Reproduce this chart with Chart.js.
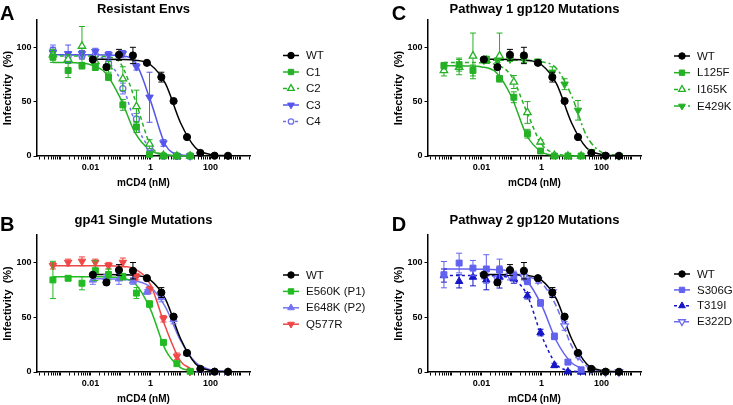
<!DOCTYPE html>
<html>
<head>
<meta charset="utf-8">
<script src="https://cdn.jsdelivr.net/npm/chart.js@4.4.1/dist/chart.umd.min.js"></script>
<style>
  html, body { margin: 0; padding: 0; background: #fff; }
  #wrap { position: relative; width: 733px; height: 405px; overflow: hidden; }
  canvas { position: absolute; }
</style>
</head>
<body>
<div id="wrap">
  <canvas id="panelA" width="391" height="209" style="left:0;top:0"></canvas>
  <canvas id="panelB" width="391" height="196" style="left:0;top:209px"></canvas>
  <canvas id="panelC" width="342" height="209" style="left:391px;top:0"></canvas>
  <canvas id="panelD" width="342" height="196" style="left:391px;top:209px"></canvas>
</div>
<script>
// doses (nM) and fit sampling points
const wtDose  = [0.012, 0.034, 0.089, 0.26, 0.76, 2.3, 5.9, 16.5, 46, 137, 383];
const mutDose = [0.00056, 0.0018, 0.0052, 0.0145, 0.04, 0.12, 0.34, 0.93, 2.7, 7.6, 21];
const wtFitX  = [0.012, 0.0316, 0.1, 0.316, 1, 3.16, 10, 31.6, 100, 383];
const mutFitX = [0.00056, 0.001, 0.00316, 0.01, 0.0316, 0.1, 0.316, 1, 3.16, 10, 21];

// axis ticks
const xTickValues = [0.01, 1, 100];
const xTickText = ['0.01', '1', '100'];
const yTickValues = [0, 50, 100];

// WT (same in every panel)
const wtMean = [88.7, 81.7, 93, 92.4, 85.6, 72.5, 50.5, 17.4, 2.8, 0.3, 0.2];
const wtSem  = [1.5, 2, 5, 7.5, 1.5, 4.5, 1.5, 1.5, 1, 0.5, 0.5];
const wtFit  = [89, 89, 88.8, 88.1, 83.9, 66.5, 30.6, 7.6, 1.45, 0.2];

// A - resistant envs
const c1Mean = [91, 78.6, 83, 81.6, 72.5, 47, 26.6, 1.5, 0, 0, 0];
const c1Sem  = [5, 6.5, 3, 3, 3, 5, 5, 1, 0.5, 0.5, 0.5];
const c1Fit  = [86, 85.9, 85.6, 83.9, 76.4, 53, 20.8, 5.2, 1.1, 0.2, 0.1];
const c2Mean = [93, 89, 101, 87, 82, 71, 45.5, 11, 0.5, 0, 0];
const c2Sem  = [5, 4, 18, 4, 5, 11, 15, 4, 1, 0.5, 0.5];
const c2Fit  = [92, 92, 92, 91.9, 91.3, 85.1, 50.7, 10, 1.1, 0.1, 0];
const c3Mean = [95, 94, 94, 96, 93, 94, 82, 54, 12, 0.3, 0];
const c3Sem  = [5, 8, 3, 3, 3, 3, 3, 23, 3, 0.5, 0.5];
const c3Fit  = [93, 93, 93, 93, 92.9, 92.2, 85.9, 50.9, 10.1, 1.1, 0.25];
const c4Mean = [97, 92, 92, 93, 85, 62, 34, 8, 0, 0, 0];
const c4Sem  = [5, 3, 3, 3, 3, 5, 5, 3, 0.5, 0.5, 0.5];
const c4Fit  = [93, 93, 92.9, 92.2, 88.4, 69.9, 30.2, 6.6, 1.1, 0.18, 0.05];

// B - gp41 single mutations
const e560kMean = [84, 85.5, 81, 92.5, 89, 87, 72, 62, 27, 7.6, 0.6];
const e560kSem  = [17, 2, 6, 9, 5, 3, 5, 3, 2, 2, 1];
const e560kFit  = [87, 87, 87, 87, 86.8, 85.9, 80.3, 57.1, 20.2, 4, 1.26];
const e648kMean = [84, 86, 85, 83, 73, 68, 48, 17, 2, 0, 0];
const e648kSem  = [4, 3, 5, 3, 2, 4, 4, 2, 1, 0.5, 0.5];
const e648kFit  = [85, 85, 84.6, 83.2, 77.5, 59.2, 28.9, 8.8, 2.1, 0.4];
const q577rMean = [97, 100, 101, 100, 97, 100, 87, 75, 48.6, 14.3, 0.6];
const q577rSem  = [3, 3, 4, 3, 3, 4, 3, 3, 3, 3, 1];
const q577rFit  = [97, 97, 97, 97, 96.9, 96.5, 93.8, 79.7, 41, 10, 3.3];

// C - pathway 1
const l125fMean = [83, 84, 78.6, 89, 71, 54, 20.5, 4.6, 0, 0, 0];
const l125fSem  = [3, 6, 5, 2, 3, 5, 4, 1.5, 0.5, 0.5, 0.5];
const l125fFit  = [83, 83, 82.8, 81.9, 76.6, 54.5, 19.3, 3.8, 0.63, 0.1, 0.03];
const i165kMean = [78.6, 81.7, 92, 88, 92, 68, 40, 13, 0.6, 0, 0];
const i165kSem  = [5, 7, 21, 3, 21, 6, 10, 2, 0.5, 0.5, 0.5];
const i165kFit  = [86, 86, 86, 85.6, 83.8, 73.4, 41.3, 11, 2, 0.3, 0.1];
const e429kMean = [88, 88, 89, 89, 87, 77, 66, 42, 4, 0, 0];
const e429kSem  = [2, 2, 2, 3, 2, 5, 5, 9, 2, 0.5, 0.5];
const e429kFit  = [88, 88, 88, 87.8, 86.7, 80.5, 55.6, 18.8, 3.6, 0.44];

// D - pathway 2
const s306gMean = [88.8, 99.4, 94.8, 94, 93, 88, 82.7, 63, 32.5, 9, 2];
const s306gSem  = [12, 9, 7, 13, 10, 4, 3, 3, 3, 2, 1];
const s306gFit  = [94, 94, 94, 93.8, 93.4, 91.4, 83.6, 61.2, 28.3, 8.5, 3.5];
const t319iMean = [88, 82.7, 86.6, 84, 86.6, 85, 69.6, 36, 6, 0.3, 0];
const t319iSem  = [6, 6, 8, 9, 10, 4, 3, 3, 2, 0.5, 0.5];
const t319iFit  = [88, 88, 88, 88, 87.6, 85.2, 71.5, 33.4, 7, 1.06, 0.3];
const e322dMean = [88, 85, 88, 87, 84, 73, 42, 15, 2, 0, 0];
const e322dSem  = [3, 3, 4, 3, 3, 4, 4, 2, 1, 0.5, 0.5];
const e322dFit  = [88, 88, 87.8, 86.7, 81.2, 59.7, 24, 5.5, 1, 0.14];

const FONT = '"Liberation Sans", Arial, Helvetica, sans-serif';
const GREEN = '#25b025', BLUE = '#5656ec', BLUE2 = '#6e6ef2';

function series(label, xs, ys, errs, fitX, fitY, st) {
    const pts = {
        label: label,
        errors: errs,
        lineDash: st.dash || [],
        data: xs.map((x, i) => ({ x: x, y: ys[i] })),
        showLine: false,
        pointStyle: st.shape,
        pointRadius: st.r,
        pointHoverRadius: st.r,
        pointRotation: st.rot || 0,
        backgroundColor: st.open ? '#fff' : st.color,
        borderColor: st.color,
        borderWidth: st.open ? 1.3 : 1,
        order: 0,
        clip: false
    };
    const fit = {
        label: label + ' fit',
        data: fitX.map((x, i) => ({ x: x, y: fitY[i] })),
        showLine: true,
        pointRadius: 0,
        borderColor: st.color,
        borderWidth: 1.5,
        borderDash: st.dash || [],
        cubicInterpolationMode: 'monotone',
        fill: false,
        order: 1,
        clip: false
    };
    return [pts, fit];
}

function wtSeries() {
    return series('WT', wtDose, wtMean, wtSem, wtFitX, wtFit, { color: '#000', shape: 'circle', r: 3.6 });
}

// error bars, drawn just before each point dataset
const errorBars = {
    id: 'errorBars',
    beforeDatasetDraw(chart, args) {
        const ds = chart.data.datasets[args.index];
        if (!ds.errors) return;
        const ctx = chart.ctx, xs = chart.scales.x, ys = chart.scales.y;
        ctx.save();
        ctx.strokeStyle = ds.borderColor;
        ctx.lineWidth = 1;
        ds.data.forEach((p, i) => {
            const e = ds.errors[i];
            if (!e) return;
            const px = xs.getPixelForValue(p.x);
            const top = ys.getPixelForValue(p.y + e);
            const bot = ys.getPixelForValue(Math.max(p.y - e, 0));
            ctx.beginPath();
            ctx.moveTo(px, top); ctx.lineTo(px, bot);
            ctx.moveTo(px - 3, top); ctx.lineTo(px + 3, top);
            ctx.moveTo(px - 3, bot); ctx.lineTo(px + 3, bot);
            ctx.stroke();
        });
        ctx.restore();
    }
};

function marker(ctx, shape, r, rot, x, y) {
    ctx.beginPath();
    if (shape === 'circle') {
        ctx.arc(x, y, r, 0, Math.PI * 2);
    } else if (shape === 'rect') {
        const s = r * Math.SQRT1_2;
        ctx.rect(x - s, y - s, 2 * s, 2 * s);
    } else {
        let a = rot * Math.PI / 180;
        for (let k = 0; k < 3; k++) {
            const px = x + Math.sin(a) * r, py = y - Math.cos(a) * r;
            if (k === 0) ctx.moveTo(px, py); else ctx.lineTo(px, py);
            a += 2 * Math.PI / 3;
        }
        ctx.closePath();
    }
    ctx.fill();
    ctx.stroke();
}

// panel letter, title and legend
const panelDecor = {
    id: 'panelDecor',
    afterDraw(chart, args, o) {
        const ctx = chart.ctx, area = chart.chartArea;
        ctx.save();
        ctx.fillStyle = '#000';
        ctx.textBaseline = 'alphabetic';
        ctx.textAlign = 'left';
        ctx.font = 'bold 20px ' + FONT;
        ctx.fillText(o.letter, o.letterX, o.letterY);
        ctx.font = 'bold 13px ' + FONT;
        ctx.textAlign = 'center';
        ctx.fillText(o.title, (area.left + area.right) / 2, o.titleY);

        ctx.font = '11.5px ' + FONT;
        ctx.textAlign = 'left';
        ctx.textBaseline = 'middle';
        let y = o.legendY;
        chart.data.datasets.filter(d => d.errors).forEach(d => {
            ctx.strokeStyle = d.borderColor;
            ctx.lineWidth = 1.5;
            ctx.setLineDash(d.lineDash);
            ctx.beginPath();
            ctx.moveTo(283, y); ctx.lineTo(299, y);
            ctx.stroke();
            ctx.setLineDash([]);
            ctx.fillStyle = d.backgroundColor;
            ctx.lineWidth = d.borderWidth;
            marker(ctx, d.pointStyle, d.pointRadius * 0.9, d.pointRotation, 291, y);
            ctx.fillStyle = '#111';
            ctx.fillText(d.label, 306, y + 0.5);
            y += o.legendStep;
        });
        ctx.restore();
    }
};

function buildLogTicks(scale) {
    const ticks = [];
    for (let e = -4; e <= 3; e++) {
        for (let m = 1; m <= 9; m++) {
            const v = m * Math.pow(10, e);
            if (v >= scale.min && v <= scale.max) ticks.push({ value: v, major: m === 1 });
        }
    }
    scale.ticks = ticks;
}

function xLabel(v) {
    const i = xTickValues.findIndex(t => Math.abs(t - v) / t < 1e-6);
    return i >= 0 ? xTickText[i] : '';
}

function makePanel(id, datasets, area, decor) {
    const cv = document.getElementById(id);
    const axisCommon = {
        grid: { drawOnChartArea: false, drawTicks: true, tickLength: 3.5, tickColor: '#000', tickWidth: 1 },
        border: { display: true, color: '#000', width: 1.5 }
    };
    return new Chart(cv, {
        type: 'scatter',
        data: { datasets: datasets },
        options: {
            responsive: false,
            animation: false,
            events: [],
            layout: {
                padding: {
                    left: 1.5,
                    top: area.top,
                    right: cv.width - area.right,
                    bottom: cv.height - area.bottom - 33
                }
            },
            scales: {
                x: Object.assign({
                    type: 'logarithmic',
                    min: 0.000165,
                    max: 2075,
                    afterBuildTicks: buildLogTicks,
                    afterFit: s => { s.height = 33; },
                    ticks: {
                        autoSkip: false, maxRotation: 0, minRotation: 0, padding: 2.5,
                        color: '#000', font: { family: FONT, size: 9, weight: 'bold' },
                        callback: xLabel
                    },
                    title: { display: true, text: 'mCD4 (nM)', color: '#000', padding: 0,
                             font: { family: FONT, size: 10, weight: 'bold' } }
                }, axisCommon),
                y: Object.assign({
                    type: 'linear',
                    min: 0,
                    max: 125,
                    afterBuildTicks: s => { s.ticks = yTickValues.map(v => ({ value: v })); },
                    afterFit: s => { s.width = area.left - 1.5; },
                    ticks: { padding: 2, color: '#000', font: { family: FONT, size: 9, weight: 'bold' } },
                    title: { display: true, text: 'Infectivity  (%)', color: '#000', padding: 0,
                             font: { family: FONT, size: 11, weight: 'bold' } }
                }, axisCommon)
            },
            plugins: {
                legend: { display: false },
                tooltip: { enabled: false },
                panelDecor: decor
            }
        },
        plugins: [errorBars, panelDecor]
    });
}

const areaTop = { left: 37, top: 20, right: 250, bottom: 156 };
const areaBottom = { left: 37, top: 26, right: 250, bottom: 163 };

makePanel('panelA', [].concat(
    wtSeries(),
    series('C1', mutDose, c1Mean, c1Sem, mutFitX, c1Fit, { color: GREEN, shape: 'rect', r: 4.2 }),
    series('C2', mutDose, c2Mean, c2Sem, mutFitX, c2Fit, { color: GREEN, shape: 'triangle', r: 4.3, open: true, dash: [4, 3] }),
    series('C3', mutDose, c3Mean, c3Sem, mutFitX, c3Fit, { color: BLUE, shape: 'triangle', r: 4.3, rot: 180 }),
    series('C4', mutDose, c4Mean, c4Sem, mutFitX, c4Fit, { color: BLUE2, shape: 'circle', r: 3, open: true, dash: [3, 3] })
), areaTop, { letter: 'A', letterX: 0, letterY: 19.5, title: 'Resistant Envs', titleY: 12.5, legendY: 55.5, legendStep: 16.5 });

makePanel('panelB', [].concat(
    wtSeries(),
    series('E560K (P1)', mutDose, e560kMean, e560kSem, mutFitX, e560kFit, { color: '#22bb22', shape: 'rect', r: 4.2 }),
    series('E648K (P2)', wtDose, e648kMean, e648kSem, wtFitX, e648kFit, { color: '#7474f2', shape: 'triangle', r: 4.3 }),
    series('Q577R', mutDose, q577rMean, q577rSem, mutFitX, q577rFit, { color: '#ef4646', shape: 'triangle', r: 4.3, rot: 180 })
), areaBottom, { letter: 'B', letterX: 0, letterY: 21.5, title: 'gp41 Single Mutations', titleY: 14.5, legendY: 66, legendStep: 16.4 });

makePanel('panelC', [].concat(
    wtSeries(),
    series('L125F', mutDose, l125fMean, l125fSem, mutFitX, l125fFit, { color: GREEN, shape: 'rect', r: 4.2 }),
    series('I165K', mutDose, i165kMean, i165kSem, mutFitX, i165kFit, { color: GREEN, shape: 'triangle', r: 4.3, open: true, dash: [4, 3] }),
    series('E429K', wtDose, e429kMean, e429kSem, wtFitX, e429kFit, { color: GREEN, shape: 'triangle', r: 4.3, rot: 180, dash: [6, 3, 2, 3] })
), areaTop, { letter: 'C', letterX: 0.7, letterY: 19.5, title: 'Pathway 1 gp120 Mutations', titleY: 13, legendY: 56, legendStep: 16.7 });

makePanel('panelD', [].concat(
    wtSeries(),
    series('S306G', mutDose, s306gMean, s306gSem, mutFitX, s306gFit, { color: '#6262ee', shape: 'rect', r: 4.2 }),
    series('T319I', mutDose, t319iMean, t319iSem, mutFitX, t319iFit, { color: '#1616c8', shape: 'triangle', r: 4.3, dash: [3, 3] }),
    series('E322D', wtDose, e322dMean, e322dSem, wtFitX, e322dFit, { color: '#6c6cec', shape: 'triangle', r: 4.3, rot: 180, open: true, dash: [6, 3] })
), areaBottom, { letter: 'D', letterX: 0.7, letterY: 21.5, title: 'Pathway 2 gp120 Mutations', titleY: 15, legendY: 65, legendStep: 15.9 });
</script>
</body>
</html>
